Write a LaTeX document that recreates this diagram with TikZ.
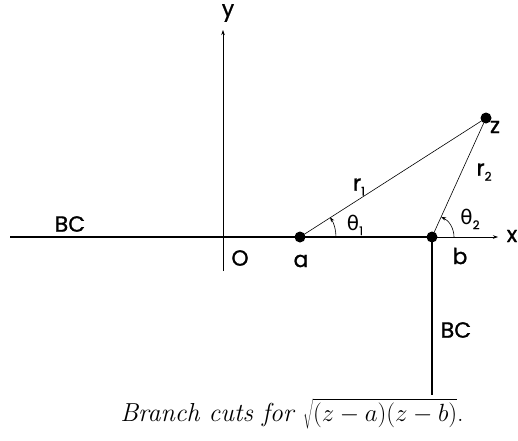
\documentclass[tikz,border=0pt]{standalone}
\usepackage{fontspec}
\setmainfont{Latin Modern Roman}
\newfontfamily\labfont[FakeBold=1]{Poppins}
\newfontfamily\grkfont{DejaVu Sans}
\usetikzlibrary{arrows.meta}
\begin{document}
\begin{tikzpicture}[x=1pt,y=-1pt,
  lab/.style={font=\labfont\fontsize{22}{22}\selectfont, inner sep=0pt},
  thinln/.style={line width=0.6pt},
  cut/.style={line width=1.8pt},
  pt/.style={circle, fill=black, inner sep=0pt, minimum size=11pt},
  tip/.style={-{Stealth[length=5pt,width=3.5pt]}}]
\useasboundingbox (0,0) rectangle (518,440);
% axes
\coordinate (O) at (223,237);
\coordinate (xend) at (498,237);
\coordinate (yend) at (223,30);
\coordinate (ybot) at (223,271);
\coordinate (left) at (10,237);
\coordinate (cutend) at (432,395);
\node[pt] (a) at (300,237) {};
\node[pt] (b) at (432,237) {};
\node[pt] (z) at (486,118) {};
\draw[thinln,tip] (ybot) -- (yend);
\draw[thinln,tip] (O) -- (xend);
\draw[cut] (left) -- (a.center);
\draw[line width=1.1pt] (a.center) -- (b.center);
\draw[cut] (b.center) -- (cutend);
\draw[thinln] (a.center) -- (z.center);
\draw[thinln] (b.center) -- (z.center);
% angle arcs
\draw[thinln,tip] ([shift={(36,0)}]a.center) arc[start angle=0,end angle=-33.5,radius=36];
\draw[thinln,tip] ([shift={(22,0)}]b.center) arc[start angle=0,end angle=-65.6,radius=22];
% labels
\node[lab] (ly) at (228,13) {y};
\node[lab] (lx) at (512,236) {x};
\node[lab] (lO) at (240,258) {O};
\node[lab] (la) at (301,261) {a};
\node[lab] (lb) at (460,256) {b};
\node[lab] (lz) at (495,127) {z};
\node[lab] (lbc1) at (70,224) {BC};
\node[lab] (lbc2) at (456,330) {BC};
\node[lab] (lr1) at (359,187) {r\raisebox{-5pt}{\fontsize{12}{12}\selectfont 1}};
\node[lab] (lr2) at (484,172) {r\raisebox{-5pt}{\fontsize{12}{12}\selectfont 2}};
\node[lab] (lt1) at (355,225) {\grkfont\fontsize{20}{20}\selectfont θ\raisebox{-5pt}{\labfont\fontsize{12}{12}\selectfont 1}};
\node[lab] (lt2) at (470,219) {\grkfont\fontsize{20}{20}\selectfont θ\raisebox{-5pt}{\labfont\fontsize{12}{12}\selectfont 2}};
\node[font=\fontsize{26}{30}\selectfont, inner sep=0pt, anchor=base] (cap) at (292,421) {\textit{Branch cuts for} $\sqrt{(z-a)(z-b)}$.};
\end{tikzpicture}
\end{document}
